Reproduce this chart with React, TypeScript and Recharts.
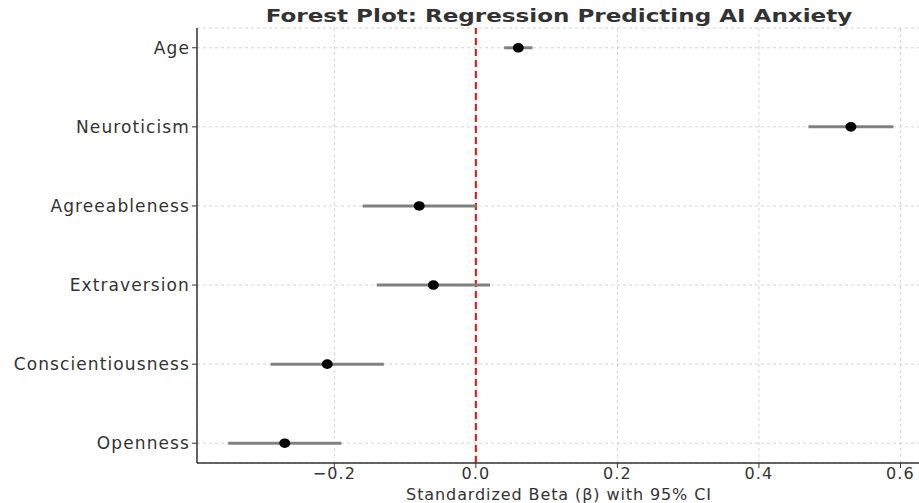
import { ScatterChart, Scatter, XAxis, YAxis, CartesianGrid, ReferenceLine, ErrorBar } from 'recharts'

// predictors, top to bottom as shown
const factors = ['Age', 'Neuroticism', 'Agreeableness', 'Extraversion', 'Conscientiousness', 'Openness']
const betas = [0.06, 0.53, -0.08, -0.06, -0.21, -0.27]
const ciLow = [0.04, 0.47, -0.16, -0.14, -0.29, -0.35]
const ciHigh = [0.08, 0.59, 0.0, 0.02, -0.13, -0.19]
const xTicks = [-0.2, 0.0, 0.2, 0.4, 0.6]

const n = factors.length
const rows = factors.map((name, i) => ({
  name,
  pos: n - 1 - i,
  beta: betas[i],
  err: [betas[i] - ciLow[i], ciHigh[i] - betas[i]],
}))

const FONT = '"DejaVu Sans", sans-serif'
const fmtX = (v: number) => (v < 0 ? '\u2212' : '') + Math.abs(v).toFixed(1)
const tickStyle = { fontSize: 17, fill: '#333', fontFamily: FONT, letterSpacing: 1.1 }

function Dot(props: any) {
  return <ellipse cx={props.cx} cy={props.cy} rx={5.5} ry={4.8} fill="#000" />
}

export default function App() {
  return (
    <div style={{ position: 'absolute', left: 0, top: 0, width: 919, height: 503, overflow: 'hidden', background: '#fff', fontFamily: FONT }}>
      <div style={{ position: 'absolute', top: 5, left: 0, width: 1118, textAlign: 'center', fontWeight: 'bold', fontSize: 18, color: '#333', transform: 'scaleX(1.28)', transformOrigin: '559px 0' }}>
        Forest Plot: Regression Predicting AI Anxiety
      </div>
      <ScatterChart width={921} height={503} margin={{ top: 28, right: 0, bottom: 0, left: 0 }}>
        <CartesianGrid strokeDasharray="3 3" stroke="#d4d4d4" />
        <XAxis
          type="number"
          dataKey="beta"
          domain={[-0.394, 0.629]}
          allowDataOverflow
          ticks={xTicks}
          tickFormatter={fmtX}
          height={40}
          tick={{ ...tickStyle, fontSize: 16 }}
          tickMargin={0}
          axisLine={{ stroke: '#333', strokeWidth: 1.5 }}
          tickLine={{ stroke: '#333' }}
          tickSize={5}
          label={{ value: 'Standardized Beta (\u03b2) with 95% CI', position: 'insideBottom', offset: 3, fontSize: 16, fill: '#333', fontFamily: FONT, letterSpacing: 0.9 }}
        />
        <YAxis
          type="number"
          dataKey="pos"
          domain={[-0.25, 5.25]}
          ticks={[0, 1, 2, 3, 4, 5]}
          tickFormatter={(v: number) => factors[n - 1 - v]}
          width={197}
          tick={tickStyle}
          axisLine={{ stroke: '#333', strokeWidth: 1.5 }}
          tickLine={{ stroke: '#333' }}
          tickSize={5}
        />
        <ReferenceLine x={0} stroke="#e81010" strokeWidth={2} strokeDasharray="7 4" />
        <Scatter data={rows} shape={<Dot />} isAnimationActive={false}>
          <ErrorBar dataKey="err" direction="x" width={0} stroke="#808080" strokeWidth={3} />
        </Scatter>
      </ScatterChart>
    </div>
  )
}
